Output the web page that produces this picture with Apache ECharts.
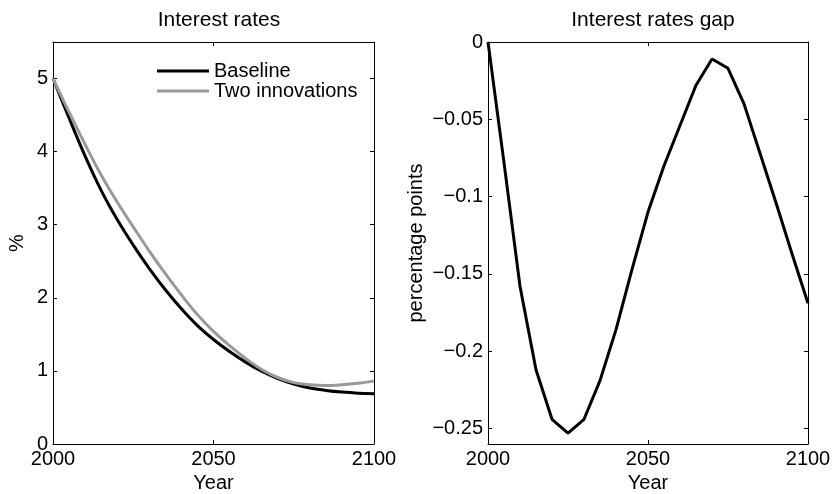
<!DOCTYPE html>
<html>
<head>
<meta charset="utf-8">
<script src="https://cdn.jsdelivr.net/npm/echarts@6/dist/echarts.min.js"></script>
<style>
  html, body { margin: 0; padding: 0; background: #fff; }
  #chart { width: 833px; height: 494px; }
</style>
</head>
<body>
<div id="chart"></div>
<script>
const years = [2000, 2005, 2010, 2015, 2020, 2025, 2030, 2035, 2040, 2045, 2050,
  2055, 2060, 2065, 2070, 2075, 2080, 2085, 2090, 2095, 2100]

// interest rates, %
const baseline = [5.0, 4.46, 3.94, 3.47, 3.07, 2.72, 2.40, 2.11, 1.85, 1.62, 1.43,
  1.265, 1.12, 0.995, 0.895, 0.82, 0.766, 0.733, 0.71, 0.695, 0.688]
const twoInnovations = [5.0, 4.54, 4.10, 3.68, 3.31, 2.97, 2.64, 2.33, 2.04, 1.77, 1.54,
  1.345, 1.17, 1.02, 0.91, 0.84, 0.81, 0.80, 0.81, 0.83, 0.86]

// gap, percentage points
const gap = [0, -0.078, -0.158, -0.212, -0.244, -0.253, -0.244, -0.219, -0.186, -0.147, -0.11,
  -0.08, -0.054, -0.028, -0.011, -0.017, -0.04, -0.072, -0.104, -0.137, -0.169]

const xTicks = [2000, 2050, 2100]
const leftTicks = [0, 1, 2, 3, 4, 5]
const rightTicks = [0, -0.05, -0.1, -0.15, -0.2, -0.25]

const font = 'Liberation Sans, Arial, Helvetica, sans-serif'
const chart = echarts.init(document.getElementById('chart'))

const pairs = (ys) => years.map((y, i) => [y, ys[i]])
const minus = (v) => (v === 0 ? '0' : String(v).replace('-', '\u2212'))

// one side of the box; the mirror copies get ticks but no labels
function xAx(grid, pos, labels) {
  return {
    type: 'value', gridIndex: grid, position: pos, min: 2000, max: 2100,
    axisLine: { show: true, onZero: false, lineStyle: { color: '#000', width: 1 } },
    axisTick: { show: true, inside: true, length: 4, customValues: xTicks, lineStyle: { color: '#000' } },
    axisLabel: { show: labels, customValues: xTicks, formatter: (v) => String(v),
      color: '#000', fontSize: 20, fontFamily: font, margin: 5 },
    splitLine: { show: false },
    name: labels ? 'Year' : '', nameLocation: 'middle', nameGap: 29,
    nameTextStyle: { color: '#000', fontSize: 20, fontFamily: font }
  }
}
function yAx(grid, pos, labels, min, max, ticks, name, gapPx) {
  return {
    type: 'value', gridIndex: grid, position: pos, min: min, max: max,
    axisLine: { show: true, onZero: false, lineStyle: { color: '#000', width: 1 } },
    axisTick: { show: true, inside: true, length: 4, customValues: ticks, lineStyle: { color: '#000' } },
    axisLabel: { show: labels, customValues: ticks, formatter: minus, color: '#000', fontSize: 20, fontFamily: font, margin: 5 },
    splitLine: { show: false },
    name: labels ? name : '', nameLocation: 'middle', nameGap: gapPx, nameRotate: 90,
    nameTextStyle: { color: '#000', fontSize: 20, fontFamily: font }
  }
}

const option = {
  animation: false,
  backgroundColor: '#fff',
  title: [
    { text: 'Interest rates', left: 214, top: 5, textAlign: 'center',
      textStyle: { fontSize: 21, fontWeight: 'normal', color: '#000', fontFamily: font } },
    { text: 'Interest rates gap', left: 648, top: 5, textAlign: 'center',
      textStyle: { fontSize: 21, fontWeight: 'normal', color: '#000', fontFamily: font } }
  ],
  legend: {
    orient: 'vertical', left: 152, top: 56, itemGap: 0,
    itemWidth: 52, itemHeight: 3, icon: 'rect',
    textStyle: { fontSize: 20, color: '#000', fontFamily: font },
    data: ['Baseline', 'Two innovations']
  },
  grid: [
    { left: 53, right: 459, top: 42, bottom: 50, outerBoundsMode: 'none' },
    { left: 488, right: 25, top: 42, bottom: 50, outerBoundsMode: 'none' }
  ],
  xAxis: [
    xAx(0, 'bottom', true), xAx(0, 'top', false),
    xAx(1, 'bottom', true), xAx(1, 'top', false)
  ],
  yAxis: [
    yAx(0, 'left', true, 0, 5.5, leftTicks, '%', 26),
    yAx(0, 'right', false, 0, 5.5, leftTicks, '', 0),
    yAx(1, 'left', true, -0.26, 0, rightTicks, 'percentage points', 62),
    yAx(1, 'right', false, -0.26, 0, rightTicks, '', 0)
  ],
  series: [
    { name: 'Baseline', type: 'line', xAxisIndex: 0, yAxisIndex: 0, data: pairs(baseline),
      smooth: 0.4, showSymbol: false, color: '#000', lineStyle: { width: 3, color: '#000' } },
    { name: 'Two innovations', type: 'line', xAxisIndex: 0, yAxisIndex: 0, data: pairs(twoInnovations),
      smooth: 0.4, showSymbol: false, color: '#999', lineStyle: { width: 3, color: '#999' } },
    { name: 'gap', type: 'line', xAxisIndex: 2, yAxisIndex: 2, data: pairs(gap),
      showSymbol: false, color: '#000', lineStyle: { width: 3, color: '#000' } }
  ]
}

chart.setOption(option)
</script>
</body>
</html>
